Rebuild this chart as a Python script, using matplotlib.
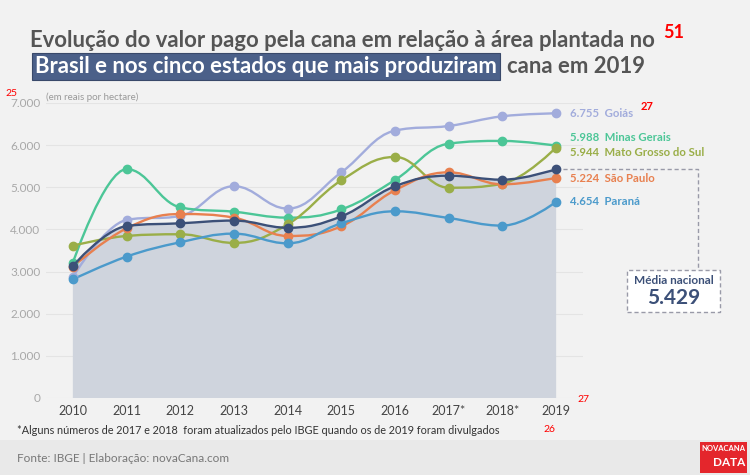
import numpy as np
import matplotlib
matplotlib.use("Agg")
import matplotlib.pyplot as plt
from matplotlib.path import Path
from matplotlib.patches import PathPatch, Rectangle

YEARS = ["2010", "2011", "2012", "2013", "2014", "2015", "2016", "2017*", "2018*", "2019"]

BRASIL = [3130, 4080, 4145, 4210, 4040, 4310, 5025, 5275, 5180, 5429]
GOIAS = [2870, 4225, 4320, 5025, 4495, 5355, 6345, 6455, 6685, 6755]
MINAS = [3210, 5430, 4525, 4420, 4280, 4475, 5175, 6035, 6100, 5988]
MS = [3615, 3845, 3885, 3680, 4120, 5165, 5720, 4990, 5085, 5944]
SAO_PAULO = [3120, 4025, 4365, 4280, 3845, 4075, 4930, 5355, 5070, 5224]
PARANA = [2815, 3355, 3695, 3900, 3670, 4145, 4430, 4270, 4090, 4654]

SERIES = [
    ("Goiás", GOIAS, "#a2acdc"),
    ("Minas Gerais", MINAS, "#4cc697"),
    ("Mato Grosso do Sul", MS, "#9aae48"),
    ("São Paulo", SAO_PAULO, "#e8804f"),
    ("Paraná", PARANA, "#4b9acb"),
]
NAVY = "#3c5078"
LABEL_Y = [6760, 6170, 5815, 5220, 4670]  # label anchor heights (data units)

BG = "#f2f2f2"
LATO = ["Lato", "DejaVu Sans"]


def spline_path(x, y, close_to=None):
    """Highcharts-like spline through the points as a cubic Bezier path."""
    n = len(x)
    verts = [(x[0], y[0])]
    codes = [Path.MOVETO]
    smooth, denom = 1.5, 2.5
    left = [None] * n
    right = [None] * n
    for i in range(1, n - 1):
        lx = (smooth * x[i] + x[i - 1]) / denom
        ly = (smooth * y[i] + y[i - 1]) / denom
        rx = (smooth * x[i] + x[i + 1]) / denom
        ry = (smooth * y[i] + y[i + 1]) / denom
        corr = (ry - ly) * (rx - x[i]) / (rx - lx) + y[i] - ry
        ly += corr
        ry += corr
        if ly > y[i - 1] and ly > y[i]:
            ly = max(y[i - 1], y[i]); ry = 2 * y[i] - ly
        elif ly < y[i - 1] and ly < y[i]:
            ly = min(y[i - 1], y[i]); ry = 2 * y[i] - ly
        if ry > y[i + 1] and ry > y[i]:
            ry = max(y[i + 1], y[i]); ly = 2 * y[i] - ry
        elif ry < y[i + 1] and ry < y[i]:
            ry = min(y[i + 1], y[i]); ly = 2 * y[i] - ry
        left[i] = (lx, ly)
        right[i] = (rx, ry)
    for i in range(1, n):
        c1 = right[i - 1] if right[i - 1] else (x[i - 1], y[i - 1])
        c2 = left[i] if left[i] else (x[i], y[i])
        verts += [c1, c2, (x[i], y[i])]
        codes += [Path.CURVE4] * 3
    if close_to is not None:
        verts += [(x[-1], close_to), (x[0], close_to), (x[0], y[0])]
        codes += [Path.LINETO, Path.LINETO, Path.CLOSEPOLY]
    return Path(verts, codes)


fig = plt.figure(figsize=(7.5, 4.75), dpi=100, facecolor=BG)
W, H = 750, 475

# bottom source band
fig.patches.append(Rectangle((0, 0), 1, 35 / H, transform=fig.transFigure,
                             facecolor="#e9e9e9", edgecolor="none", zorder=0))

ax = fig.add_axes([46 / W, 77 / H, 537 / W, 295 / H])
ax.set_facecolor(BG)
xs = np.arange(len(YEARS))
ax.set_xlim(-0.5, 9.5)
ax.set_ylim(0, 7000)
ax.set_yticks(range(0, 7001, 1000))
ax.set_yticklabels(["0"] + [f"{v // 1000}.000" for v in range(1000, 7001, 1000)])
ax.set_xticks(xs)
ax.set_xticklabels(YEARS)
ax.tick_params(axis="y", length=0, labelsize=8.5, labelcolor="#a8a8a8", pad=4)
ax.tick_params(axis="x", length=0, labelsize=9, labelcolor="#444444", pad=5)
for lbl in ax.get_yticklabels() + ax.get_xticklabels():
    lbl.set_family(LATO)
ax.grid(axis="y", color="#e4e4e4", linewidth=0.8)
ax.set_axisbelow(True)
for s in ax.spines.values():
    s.set_visible(False)

# national average: filled area + line
ax.add_patch(PathPatch(spline_path(xs, BRASIL, close_to=0), facecolor="#cfd4dd",
                       edgecolor="none", zorder=1))

for name, vals, color in SERIES:
    ax.add_patch(PathPatch(spline_path(xs, vals), facecolor="none", edgecolor=color,
                           linewidth=1.7, zorder=3, clip_on=False))
    ax.plot(xs, vals, "o", color=color, markersize=6, zorder=4, clip_on=False)

ax.add_patch(PathPatch(spline_path(xs, BRASIL), facecolor="none", edgecolor=NAVY,
                       linewidth=1.7, zorder=5, clip_on=False))
ax.plot(xs, BRASIL, "o", color=NAVY, markersize=6, zorder=6, clip_on=False)

# right-hand value labels
for (name, vals, color), ly in zip(SERIES, LABEL_Y):
    txt = f"{vals[-1] / 1000:.3f}  {name}"
    ax.text(9.25, ly, txt, color=color, fontsize=8.2, fontweight="bold", family=LATO,
            va="center", ha="left", clip_on=False)

# dashed connector and national average box
ax.plot([9, 11.64, 11.64], [BRASIL[-1], BRASIL[-1], 3040], color="#999aa8",
        linestyle=(0, (3, 2)), linewidth=1, clip_on=False, zorder=2)
fig.patches.append(Rectangle((627 / W, 163 / H), 93 / W, 42 / H, transform=fig.transFigure,
                             facecolor="white", edgecolor="#999aa8", linestyle=(0, (3, 2)),
                             linewidth=1, zorder=5))
fig.text(673.5 / W, 1 - 280 / H, "Média nacional", color=NAVY, fontsize=8.5,
         fontweight="bold", family=LATO, ha="center", va="center", zorder=6)
fig.text(673.5 / W, 1 - 298 / H, f"{BRASIL[-1] / 1000:.3f}", color=NAVY, fontsize=15,
         fontweight="bold", family=LATO, ha="center", va="center", zorder=6)

# titles
fig.text(30 / W, 1 - 47 / H, "Evolução do valor pago pela cana em relação à área plantada no",
         color="#555555", fontsize=15.9, fontweight="bold", family=LATO, va="baseline")
fig.text(35 / W, 1 - 73 / H, "Brasil e nos cinco estados que mais produziram",
         color="white", fontsize=15.9, fontweight="bold", family=LATO, va="baseline",
         bbox=dict(boxstyle="square,pad=0.12", facecolor="#4b6089", edgecolor="#39496a",
                   linewidth=0.8))
fig.text(507 / W, 1 - 73 / H, "cana em 2019", color="#555555", fontsize=15.9,
         fontweight="bold", family=LATO, va="baseline")
fig.text(663 / W, 1 - 38 / H, "51", color="#ff0000", fontsize=13, fontweight="bold",
         family=LATO, va="baseline")

fig.text(5 / W, 1 - 93 / H, "25", color="#ff0000", fontsize=7.5, family=LATO, va="center")
fig.text(46 / W, 1 - 97 / H, "(em reais por hectare)", color="#999999", fontsize=7,
         family=LATO, va="center")
fig.text(641 / W, 1 - 107 / H, "27", color="#ff0000", fontsize=8, fontweight="bold",
         family=LATO, va="center")
fig.text(577 / W, 1 - 399 / H, "27", color="#ff0000", fontsize=7.5, family=LATO,
         va="center")
fig.text(543 / W, 1 - 429 / H, "26", color="#ff0000", fontsize=7.5, family=LATO,
         va="center")

# footnote and source
fig.text(17 / W, 1 - 431 / H,
         "*Alguns números de 2017 e 2018  foram atualizados pelo IBGE quando os de 2019 foram divulgados",
         color="#333333", fontsize=7.8, family=LATO, va="center")
fig.text(17 / W, 1 - 458 / H, "Fonte: IBGE | Elaboração: novaCana.com", color="#777777",
         fontsize=8.5, family=LATO, va="center")

# logo
fig.patches.append(Rectangle((700 / W, 2 / H), 47 / W, 31 / H, transform=fig.transFigure,
                             facecolor="#e4262c", edgecolor="none", zorder=5))
fig.text(745 / W, 1 - 448.5 / H, "NOVACANA", color="white", fontsize=5.5, fontweight="bold",
         family=LATO, ha="right", va="center", zorder=6)
fig.text(745 / W, 1 - 462 / H, "DATA", color="white", fontsize=8.5, fontweight="bold",
         family=LATO, ha="right", va="center", zorder=6)

fig.savefig("out.png", dpi=100, facecolor=BG)
